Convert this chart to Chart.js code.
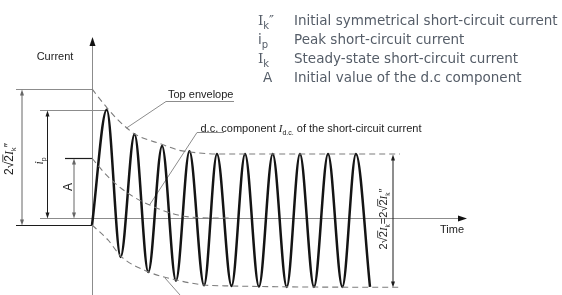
<!DOCTYPE html>
<html>
<head>
<meta charset="utf-8">
<script src="https://cdn.jsdelivr.net/npm/chart.js@4.4.1/dist/chart.umd.min.js"></script>
<style>
html, body { margin: 0; padding: 0; background: #fff; overflow: hidden; }
canvas { display: block; }
</style>
</head>
<body>
<canvas id="sc" width="562" height="295"></canvas>
<script>
// time in ms, current in kA
var waveT = [0, 10.6, 20.6, 30.6, 40.5, 50.4, 60.4, 70.1, 80.6, 89.9, 100.4, 110.1, 120.1, 130, 140.1, 149.6, 159.7, 169.8, 180.1, 189.9, 200];
var waveI = [-1.1, 16.4, -5.9, 12.7, -8.2, 10.9, -9.5, 10.1, -10.2, 9.7, -10.3, 9.7, -10.4, 9.7, -10.45, 9.7, -10.45, 9.7, -10.45, 9.7, -10.45];

var topT = [0, 5, 10.8, 18, 25.2, 30.9, 51.1, 61.9, 70.5, 89.9, 113.7, 221.6];
var topI = [19.55, 18.2, 16.7, 15.0, 13.6, 12.7, 11.1, 10.3, 10.0, 9.7, 9.7, 9.7];

var dcT = [0, 11.5, 25.9, 41.5, 61.9, 84.9, 100];
var dcI = [9.05, 6.26, 3.74, 1.97, 0.45, 0, 0];

var lowT = [0, 11.5, 21.1, 40.3, 60.6, 80.6, 100.5, 149.6, 221.6];
var lowI = [-1.06, -3.33, -5.86, -8.14, -9.39, -10.15, -10.3, -10.45, -10.5];

// legend: symbol (main, subscript, suffix) and description
var legSym = ['I', 'i', 'I', 'A'];
var legSub = ['k', 'p', 'k', ''];
var legSuf = ['″', '', '', ''];
var legText = [
    'Initial symmetrical short-circuit current',
    'Peak short-circuit current',
    'Steady-state short-circuit current',
    'Initial value of the d.c component'
];

var axisLabelY = 'Current';
var axisLabelX = 'Time';

function pts(ts, vs) {
    return ts.map(function (t, i) { return { x: t, y: vs[i] }; });
}

function line(ctx, x1, y1, x2, y2, col, w) {
    ctx.beginPath();
    ctx.moveTo(x1, y1);
    ctx.lineTo(x2, y2);
    ctx.strokeStyle = col;
    ctx.lineWidth = w || 1;
    ctx.stroke();
}

function arrow(ctx, x, y, ang, col, len, hw) {
    ctx.save();
    ctx.translate(x, y);
    ctx.rotate(ang);
    ctx.beginPath();
    ctx.moveTo(0, 0);
    ctx.lineTo(-len, -hw);
    ctx.lineTo(-len, hw);
    ctx.closePath();
    ctx.fillStyle = col;
    ctx.fill();
    ctx.restore();
}

function dimV(ctx, x, y1, y2, col) {
    line(ctx, x, y1 + 3, x, y2 - 3, col, 1);
    arrow(ctx, x, y1, -Math.PI / 2, col, 6, 2);
    arrow(ctx, x, y2, Math.PI / 2, col, 6, 2);
}

// runs: {s, f, dy, over}
function drawRuns(ctx, runs, x, y, align, rot, col) {
    ctx.save();
    ctx.translate(x, y);
    if (rot) ctx.rotate(rot);
    var w = 0;
    runs.forEach(function (r) {
        ctx.font = r.f;
        r.w = ctx.measureText(r.s).width;
        w += r.w;
    });
    var cx = align === 'center' ? -w / 2 : 0;
    ctx.fillStyle = col;
    ctx.strokeStyle = col;
    ctx.textBaseline = 'alphabetic';
    runs.forEach(function (r) {
        ctx.font = r.f;
        ctx.fillText(r.s, cx, r.dy || 0);
        if (r.over) {
            ctx.lineWidth = 0.8;
            ctx.beginPath();
            ctx.moveTo(cx - 0.5, r.over);
            ctx.lineTo(cx + r.w + 0.5, r.over);
            ctx.stroke();
        }
        cx += r.w;
    });
    ctx.restore();
}

var SANS = '"Liberation Sans", Arial, sans-serif';
var SERIF = '"Liberation Serif", serif';
var VERD = '"DejaVu Sans", Verdana, sans-serif';

function rootRuns(size, prime) {
    var r = [
        { s: '2', f: size + 'px ' + SANS },
        { s: '√', f: size + 'px ' + SANS },
        { s: '2', f: size + 'px ' + SANS, over: -size * 0.85 },
        { s: 'I', f: 'italic ' + size + 'px ' + SERIF },
        { s: 'k', f: (size * 0.6) + 'px ' + SANS, dy: size * 0.25 }
    ];
    if (prime) r.push({ s: '″', f: size + 'px ' + SANS });
    return r;
}

var sketch = {
    id: 'sketch',
    beforeDatasetsDraw: function (chart) {
        var ctx = chart.ctx, sx = chart.scales.x, sy = chart.scales.y;
        var X = function (t) { return sx.getPixelForValue(t); };
        var Y = function (v) { return Math.round(sy.getPixelForValue(v)) + 0.5; };
        var x0 = Math.round(X(0)) + 0.5, y0 = Y(0);
        var grey = '#8c8c8c', dark = '#1c1c1c';
        var pk = Math.max.apply(null, waveI);
        var pkT = waveT[waveI.indexOf(pk)];
        ctx.save();

        // axes
        line(ctx, x0, 295, x0, 44, grey, 1);
        arrow(ctx, x0, 37, -Math.PI / 2, '#111', 9, 3);
        line(ctx, 40, y0, 460, y0, grey, 1);
        arrow(ctx, 467, y0, 0, '#111', 9, 3);

        // extension lines on the left
        line(ctx, 16, Y(topI[0]), x0, Y(topI[0]), grey, 1);
        line(ctx, 16, Y(lowI[0]), x0, Y(lowI[0]), dark, 1.2);
        line(ctx, 40, Y(pk), X(pkT), Y(pk), grey, 1);
        line(ctx, 65, Y(dcI[0]), x0, Y(dcI[0]), dark, 1.2);

        // dimension arrows
        dimV(ctx, 22, Y(topI[0]), Y(lowI[0]), '#666');
        dimV(ctx, 47.5, Y(pk), y0, dark);
        dimV(ctx, 74, Y(dcI[0]), y0, '#666');
        dimV(ctx, 393, Y(topI[topI.length - 1]), Y(lowI[lowI.length - 1]), dark);

        // leader lines
        line(ctx, 126.5, 128, 166, 101.5, grey, 1);
        line(ctx, 166, 101.5, 234, 101.5, grey, 1);
        line(ctx, 149.5, 205, 197, 132.5, grey, 1);
        line(ctx, 197, 132.5, 224, 132.5, grey, 1);
        line(ctx, 165, 278, 180, 295, grey, 1);
        ctx.restore();
    },
    afterDraw: function (chart) {
        var ctx = chart.ctx;
        var txt = '#222';
        ctx.save();
        drawRuns(ctx, [{ s: axisLabelY, f: '11px ' + SANS }], 55, 59.5, 'center', 0, txt);
        drawRuns(ctx, [{ s: axisLabelX, f: '11px ' + SANS }], 452, 232.5, 'center', 0, txt);
        drawRuns(ctx, [{ s: 'Top envelope', f: '11px ' + SANS }], 168, 97.5, 'left', 0, txt);
        drawRuns(ctx, [
            { s: 'd.c. component ', f: '11px ' + SANS },
            { s: 'I', f: 'italic 11px ' + SERIF },
            { s: 'd.c.', f: '7px ' + SANS, dy: 3 },
            { s: ' of the short-circuit current', f: '11px ' + SANS }
        ], 200.5, 131.5, 'left', 0, txt);

        // rotated dimension labels
        drawRuns(ctx, rootRuns(12, true), 13, 159, 'center', -Math.PI / 2, txt);
        drawRuns(ctx, [
            { s: 'i', f: 'italic 12px ' + SERIF, dy: 4 },
            { s: 'p', f: '7px ' + SANS, dy: 7 }
        ], 38.5, 161, 'center', -Math.PI / 2, txt);
        drawRuns(ctx, [{ s: 'A', f: '12px ' + SANS, dy: 4.5 }], 67.5, 187, 'center', -Math.PI / 2, txt);
        var r = rootRuns(11, false).concat([{ s: '=', f: '11px ' + SANS }]).concat(rootRuns(11, true));
        r.forEach(function (q) { q.dy = (q.dy || 0) + 4; if (q.over) q.over += 4; });
        drawRuns(ctx, r, 383, 219, 'center', -Math.PI / 2, txt);

        // legend
        var lc = '#555d68';
        for (var i = 0; i < legText.length; i++) {
            var by = 24.5 + i * 19;
            var symFont = legSym[i] === 'I' ? '"DejaVu Serif", serif' : VERD;
            var sym = [{ s: legSym[i], f: '13.5px ' + symFont }];
            if (legSub[i]) sym.push({ s: legSub[i], f: '10px ' + VERD, dy: 4 });
            if (legSuf[i]) sym.push({ s: legSuf[i], f: '13.5px ' + VERD });
            drawRuns(ctx, sym, legSym[i] === 'A' ? 263 : 258, by, 'left', 0, lc);
            drawRuns(ctx, [{ s: legText[i], f: '13.5px ' + VERD }], 294, by, 'left', 0, lc);
        }
        ctx.restore();
    }
};

var dashed = {
    borderColor: '#7c7c7c',
    borderWidth: 1.1,
    borderDash: [6, 4],
    pointRadius: 0,
    cubicInterpolationMode: 'monotone',
    fill: false
};

new Chart(document.getElementById('sc').getContext('2d'), {
    type: 'line',
    data: {
        datasets: [
            Object.assign({ label: 'Top envelope', data: pts(topT, topI) }, dashed),
            Object.assign({ label: 'd.c. component', data: pts(dcT, dcI) }, dashed),
            Object.assign({ label: 'Bottom envelope', data: pts(lowT, lowI) }, dashed),
            {
                label: 'Short-circuit current',
                data: pts(waveT, waveI),
                borderColor: '#141414',
                borderWidth: 2.5,
                pointRadius: 0,
                cubicInterpolationMode: 'monotone',
                fill: false
            }
        ]
    },
    options: {
        responsive: false,
        animation: false,
        devicePixelRatio: 1,
        layout: { padding: 0 },
        plugins: { legend: { display: false }, tooltip: { enabled: false } },
        scales: {
            x: { type: 'linear', min: -66.19, max: 338.13, display: false },
            y: { type: 'linear', min: -11.67, max: 33.03, display: false }
        }
    },
    plugins: [sketch]
});
</script>
</body>
</html>
